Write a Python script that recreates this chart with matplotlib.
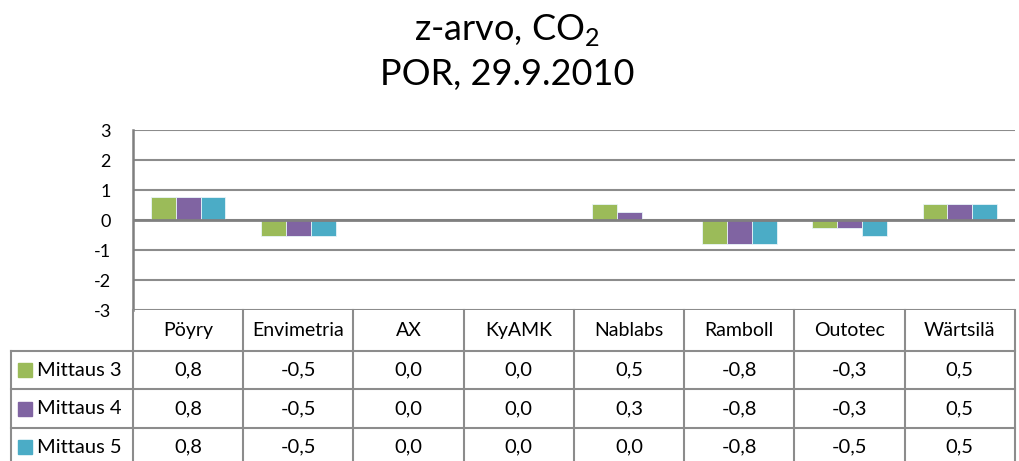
import matplotlib

matplotlib.use("Agg")
import matplotlib.pyplot as plt
import numpy as np

plt.rcParams["font.family"] = ["Lato", "DejaVu Sans"]
plt.rcParams["mathtext.fontset"] = "custom"
plt.rcParams["mathtext.rm"] = "Lato"

categories = ["Pöyry", "Envimetria", "AX", "KyAMK", "Nablabs", "Ramboll", "Outotec", "Wärtsilä"]
series_names = ["Mittaus 3", "Mittaus 4", "Mittaus 5"]
mittaus3 = [0.77, -0.52, 0.0, 0.0, 0.53, -0.8, -0.26, 0.52]
mittaus4 = [0.77, -0.52, 0.0, 0.0, 0.26, -0.8, -0.26, 0.52]
mittaus5 = [0.77, -0.52, 0.0, 0.0, 0.0, -0.8, -0.52, 0.52]
yticks = [-3, -2, -1, 0, 1, 2, 3]

colors = ["#9BBB59", "#8064A2", "#4BACC6"]
grid_c = "#8c8c8c"
W, H = 1019, 461

fig = plt.figure(figsize=(W / 100, H / 100), dpi=100)

# plot area in pixel terms
x0, x1, ytop, ybot = 133, 1015, 130, 310
ax = fig.add_axes([x0 / W, 1 - ybot / H, (x1 - x0) / W, (ybot - ytop) / H])
n = len(categories)
x = np.arange(n)
bw = 0.225
for i, (vals, c) in enumerate(zip([mittaus3, mittaus4, mittaus5], colors)):
    ax.bar(x + (i - 1) * bw, vals, width=bw, color=c, edgecolor="#e8f4f8", linewidth=0.6, zorder=3)
ax.set_xlim(-0.5, n - 0.5)
ax.set_ylim(-3, 3)
ax.set_yticks(yticks)
ax.set_yticklabels([str(t) for t in yticks], fontsize=13)
ax.set_xticks([])
ax.tick_params(axis="y", length=0, pad=16)
for t in yticks:
    ax.axhline(t, color=grid_c, lw=1.5, zorder=1)
ax.axhline(0, color="#808080", lw=2, zorder=4)
for s in ["top", "right", "bottom"]:
    ax.spines[s].set_visible(False)
ax.spines["left"].set_color("#7f7f7f")
ax.spines["left"].set_linewidth(1.8)

# data table below the plot, drawn in pixel coordinates
tb = fig.add_axes([0, 0, 1, 1])
tb.set_xlim(0, W)
tb.set_ylim(H, 0)
tb.axis("off")
colw = (x1 - x0) / n
row_y = [310, 351, 389, 428, 466]
lx = 11
lk = dict(color=grid_c, lw=1.5)
for k in range(n + 1):
    xx = x0 + k * colw
    tb.plot([xx, xx], [row_y[0], H + 5], **lk)
tb.plot([lx, lx], [row_y[1], H + 5], **lk)
tb.plot([lx, x1], [row_y[1], row_y[1]], **lk)
tb.plot([lx, x1], [row_y[2], row_y[2]], **lk)
tb.plot([lx, x1], [row_y[3], row_y[3]], **lk)
for k, cat in enumerate(categories):
    tb.text(x0 + (k + 0.5) * colw, (row_y[0] + row_y[1]) / 2, cat, ha="center", va="center", fontsize=14)
for r, (name, vals, c) in enumerate(zip(series_names, [mittaus3, mittaus4, mittaus5], colors)):
    yc = (row_y[r + 1] + row_y[r + 2]) / 2
    tb.add_patch(plt.Rectangle((18, yc - 7), 14, 14, color=c))
    tb.text(37, yc, name, ha="left", va="center", fontsize=14.5)
    for k, v in enumerate(vals):
        s = f"{v:.1f}".replace(".", ",")
        if s == "-0,0":
            s = "0,0"
        tb.text(x0 + (k + 0.5) * colw, yc, s, ha="center", va="center", fontsize=14.5)

fig.text(507 / W, 1 - 30 / H, "z-arvo, CO$_2$", ha="center", va="center", fontsize=26)
fig.text(507 / W, 1 - 75 / H, "POR, 29.9.2010", ha="center", va="center", fontsize=26)

fig.savefig("out.png", dpi=100)
